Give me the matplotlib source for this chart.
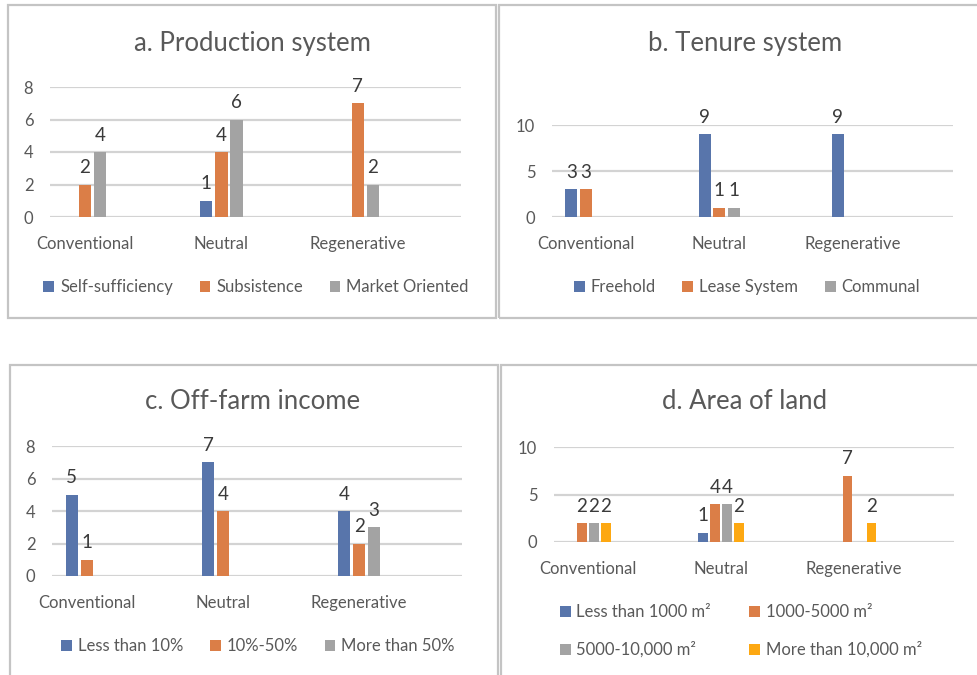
import matplotlib.pyplot as plt
from matplotlib.patches import Rectangle
import numpy as np

plt.rcParams['font.family'] = ['Lato', 'DejaVu Sans']

nan = np.nan
categories = ['Conventional', 'Neutral', 'Regenerative']

# a. production system
prod_names = ['Self-sufficiency', 'Subsistence', 'Market Oriented']
prod_self = [nan, 1, nan]
prod_subs = [2, 4, 7]
prod_market = [4, 6, 2]

# b. tenure system
tenure_names = ['Freehold', 'Lease System', 'Communal']
tenure_free = [3, 9, 9]
tenure_lease = [3, 1, nan]
tenure_comm = [nan, 1, nan]

# c. off-farm income
income_names = ['Less than 10%', '10%-50%', 'More than 50%']
income_low = [5, 7, 4]
income_mid = [1, 4, 2]
income_high = [nan, nan, 3]

# d. area of land
area_names = ['Less than 1000 m\u00b2', '1000-5000 m\u00b2',
              '5000-10,000 m\u00b2', 'More than 10,000 m\u00b2']
area_1 = [nan, 1, nan]
area_2 = [2, 4, 7]
area_3 = [2, 4, nan]
area_4 = [2, 2, 2]

BLUE = '#5875AB'
ORANGE = '#DB7E47'
GRAY = '#A3A3A3'
YELLOW = '#FDA812'
TXT = '#595959'
LBL = '#3A3A3A'
GRID = '#D3D3D3'

W, H = 977, 675
fig = plt.figure(figsize=(W / 100, H / 100), dpi=100)


def px_axes(x0, x1, y0, y1):
    # axes placed by pixel box (top-left origin)
    return fig.add_axes([x0 / W, 1 - y1 / H, (x1 - x0) / W, (y1 - y0) / H])


def box(x0, x1, y0, y1):
    fig.add_artist(Rectangle((x0 / W, 1 - y1 / H), (x1 - x0) / W, (y1 - y0) / H,
                             transform=fig.transFigure, fill=False,
                             edgecolor='#C4C4C4', linewidth=1.6, clip_on=False))


def panel(ax, title, title_xy, series, names, colors, step, width, ymax, yticks,
          legend_xy, ncol=3, colspacing=1.6, rowspacing=0.5):
    x = np.arange(len(categories))
    n = len(series)
    handles = []
    for i, (vals, col) in enumerate(zip(series, colors)):
        off = (i - (n - 1) / 2) * step
        bars = ax.bar(x + off, vals, width=width, color=col, zorder=3)
        handles.append(bars)
        for xi, v in zip(x + off, vals):
            if not np.isnan(v):
                ax.annotate(f'{v:g}', (xi, v), xytext=(0, 6), textcoords='offset points',
                            ha='center', va='bottom', fontsize=13.5, color=LBL,
                            annotation_clip=False)
    ax.set_xlim(-0.255, 2.755)
    ax.set_ylim(0, ymax)
    ax.set_yticks(yticks)
    ax.set_xticks(x)
    ax.set_xticklabels(categories)
    ax.tick_params(axis='both', length=0, labelsize=12, labelcolor=TXT)
    ax.tick_params(axis='x', pad=14)
    ax.tick_params(axis='y', pad=12)
    ax.grid(axis='y', color=GRID, linewidth=1.6, zorder=0)
    for s in ax.spines.values():
        s.set_visible(False)
    ax.set_facecolor('none')
    fig.text(title_xy[0] / W, 1 - title_xy[1] / H, title, ha='center', va='center',
             fontsize=18.5, color=TXT)
    if ncol == 2:
        order = [0, 2, 1, 3]
        handles = [handles[k] for k in order]
        names = [names[k] for k in order]
    fig.legend(handles, names, loc='center',
               bbox_to_anchor=(legend_xy[0] / W, 1 - legend_xy[1] / H),
               ncol=ncol, frameon=False, fontsize=12, labelcolor=TXT,
               handlelength=0.65, handleheight=0.65, handletextpad=0.35,
               columnspacing=colspacing, labelspacing=rowspacing, borderpad=0)


box(8, 496, 5, 318)
box(499, 990, 5, 318)
box(10, 498, 365, 700)
box(501, 990, 365, 700)

ax_a = px_axes(50, 461, 87, 217)
panel(ax_a, 'a. Production system', (252, 43), [prod_self, prod_subs, prod_market],
      prod_names, [BLUE, ORANGE, GRAY], 0.11, 0.09, 8, [0, 2, 4, 6, 8], (256, 287))

ax_b = px_axes(552, 953, 125, 217)
panel(ax_b, 'b. Tenure system', (745, 43), [tenure_free, tenure_lease, tenure_comm],
      tenure_names, [BLUE, ORANGE, GRAY], 0.11, 0.09, 10, [0, 5, 10], (747, 287))

ax_c = px_axes(52, 462, 446, 576)
panel(ax_c, 'c. Off-farm income', (253, 402), [income_low, income_mid, income_high],
      income_names, [BLUE, ORANGE, GRAY], 0.11, 0.09, 8, [0, 2, 4, 6, 8], (258, 646))

ax_d = px_axes(554, 954, 447, 542)
panel(ax_d, 'd. Area of land', (745, 402), [area_1, area_2, area_3, area_4],
      area_names, [BLUE, ORANGE, GRAY, YELLOW], 0.09, 0.072, 10, [0, 5, 10], (741, 631),
      ncol=2, colspacing=2.3, rowspacing=1.3)

fig.savefig('out.png', dpi=100)
